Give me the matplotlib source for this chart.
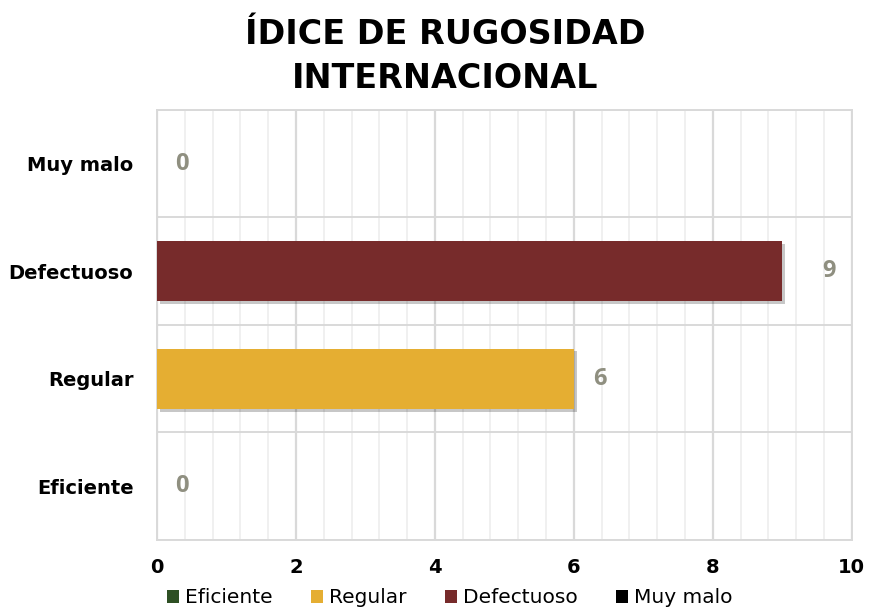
import matplotlib
matplotlib.use("Agg")
import matplotlib.pyplot as plt
from matplotlib.patches import Patch
import matplotlib.patheffects as pe
import numpy as np

categories = ["Eficiente", "Regular", "Defectuoso", "Muy malo"]
values = [0, 6, 9, 0]
colors = ["#2E5024", "#E5AE32", "#772B2B", "#000000"]
xticks = [0, 2, 4, 6, 8, 10]
title_lines = ["ÍDICE DE RUGOSIDAD", "INTERNACIONAL"]

fig = plt.figure(figsize=(8.7, 6.09), dpi=100)
ax = fig.add_axes([0.1805, 0.1133, 0.7985, 0.7061])

y = np.arange(len(categories))
bars = ax.barh(y, values, height=0.56, color=colors, zorder=3)
for b in bars:
    b.set_path_effects([pe.SimplePatchShadow(offset=(2, -2), shadow_rgbFace="#000000", alpha=0.22), pe.Normal()])

ax.set_xlim(0, 10)
ax.set_ylim(-0.5, len(categories) - 0.5)
ax.set_xticks(xticks)
ax.set_xticks(np.arange(0, 10.01, 0.4), minor=True)
ax.set_yticks(y)
ax.set_yticklabels(categories)
ax.set_yticks(np.arange(-0.5, len(categories), 1.0), minor=True)

ax.grid(which="major", axis="x", color="#D9D9D9", lw=1.6, zorder=0)
ax.grid(which="minor", axis="x", color="#EEEEEE", lw=1.2, zorder=0)
ax.grid(which="minor", axis="y", color="#D9D9D9", lw=1.4, zorder=0)
ax.tick_params(which="both", length=0)
ax.tick_params(axis="y", pad=17)
ax.tick_params(axis="x", pad=13)
for lbl in ax.get_xticklabels() + ax.get_yticklabels():
    lbl.set_fontfamily("DejaVu Sans")
    lbl.set_fontweight("bold")
    lbl.set_fontsize(14)
    lbl.set_color("#000000")
for s in ax.spines.values():
    s.set_color("#D9D9D9")
    s.set_linewidth(1.4)

offsets_px = [18, 19, 40, 18]
for yi, v, off in zip(y, values, offsets_px):
    ax.annotate(str(v), xy=(v, yi), xytext=(off * 0.72, 0), textcoords="offset points",
                ha="left", va="center", fontsize=17, fontweight="bold",
                color="#8F8F80", fontfamily="Open Sans")

for line, base in zip(title_lines, [1 - 44 / 609, 1 - 88 / 609]):
    fig.text(0.512, base, line, ha="center", va="baseline",
             fontsize=24, fontweight="bold", fontfamily="DejaVu Sans")

handles = [Patch(facecolor=c, label=l) for c, l in zip(colors, categories)]
fig.legend(handles=handles, loc="lower center", bbox_to_anchor=(0.517, -0.027), ncol=4,
           frameon=False, prop={"family": "DejaVu Sans", "size": 14.5},
           handlelength=0.6, handleheight=0.6, handletextpad=0.3, columnspacing=1.9)

fig.savefig("out.png", dpi=100)
